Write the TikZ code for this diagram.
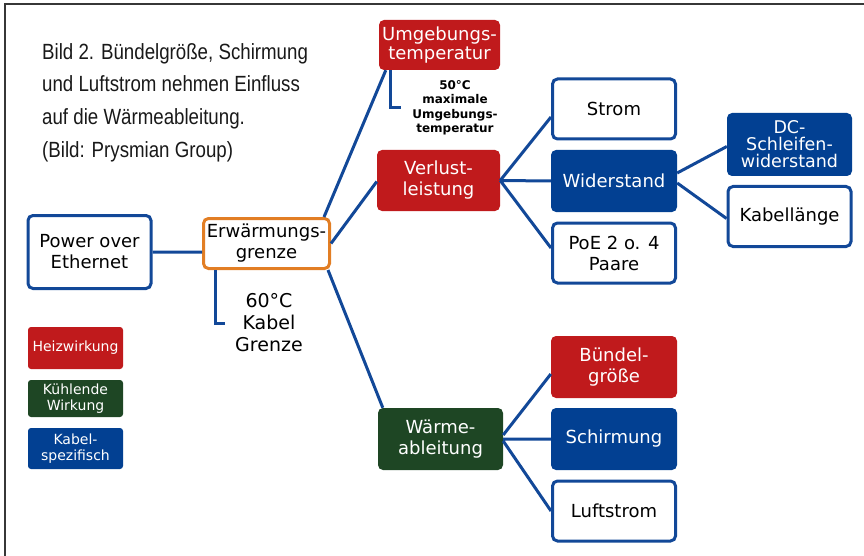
\documentclass[tikz,border=0pt]{standalone}
\usepackage{fontspec}
\setmainfont{DejaVu Sans}
\newfontfamily\captionfont[FakeStretch=0.85]{Liberation Sans}
\usetikzlibrary{positioning}
\definecolor{heat}{RGB}{192,26,28}
\definecolor{cool}{RGB}{30,70,36}
\definecolor{cable}{RGB}{2,64,146}
\definecolor{wire}{RGB}{18,72,152}
\definecolor{limit}{RGB}{226,126,36}
\definecolor{frame}{RGB}{55,55,55}

\begin{document}
\begin{tikzpicture}[
            x=1pt,y=-1pt,node distance=72pt,
            every node/.style={align=center,font=\fontsize{18}{21}\selectfont},
            box/.style={minimum width=126pt,minimum height=62pt,rounded corners=5pt,inner sep=2pt},
            heat box/.style={box,fill=heat,text=white},
            cool box/.style={box,fill=cool,text=white},
            cable box/.style={box,fill=cable,text=white},
            plain box/.style={box,draw=wire,line width=3pt,fill=white,minimum width=123pt,minimum height=60pt},
            legend/.style={minimum width=95pt,rounded corners=3pt,inner sep=1pt,text=white,font=\fontsize{14}{16.5}\selectfont},
            note/.style={inner sep=0pt},
            link/.style={draw=wire,line width=3pt}]
        \useasboundingbox (0,0) rectangle (864,556);
        \draw[frame,line width=2pt] (5,556) -- (5,4.5) -- (864,4.5);

        % Caption
        \node[anchor=north west,inner sep=0pt,align=left,text=black!90,
            font=\captionfont\fontsize{22}{32.7}\selectfont] (caption) at (42,43)
            {Bild 2. Bündelgröße, Schirmung\\und Luftstrom nehmen Einfluss\\auf die Wärmeableitung.\\(Bild: Prysmian Group)};

        % Define vertices
        \node[plain box,minimum height=73pt] (poe) at (89.5,252) {Power over\\Ethernet};
        \node[box,draw=limit,line width=3pt,fill=white,minimum height=50pt] (erw) at (266.5,243.5) {Erwärmungs-\\grenze};
        \node[note,font=\fontsize{19}{22}\selectfont] (kabel) at (269,323) {60°C\\Kabel\\Grenze};
        \node[heat box,minimum width=121pt,minimum height=50pt,inner sep=0pt,font=\fontsize{18}{19}\selectfont] (umg) at (439.5,45) {Umgebungs-\\temperatur};
        \node[note,font=\bfseries\fontsize{12}{14.5}\selectfont] (umginfo) at (455,108) {50°C\\maximale\\Umgebungs-\\temperatur};
        \node[heat box,minimum width=123pt,minimum height=61pt] (verl) at (438.5,180.5) {Verlust-\\leistung};
        \node[cool box,minimum width=125pt] (waerme) at (440.5,439) {Wärme-\\ableitung};

        \node[cable box] (wid) at (614,181) {Widerstand};
        \node[plain box] (strom) [above of=wid] {Strom};
        \node[plain box] (paare) [below of=wid] {PoE 2 o. 4\\Paare};
        \node[cable box,minimum width=125pt,minimum height=63pt,font=\fontsize{17.5}{17}\selectfont] (dc) at (789.5,144.5) {DC-\\Schleifen-\\widerstand};
        \node[plain box] (laenge) [below of=dc] {Kabellänge};
        \node[cable box] (schirm) at (614,439) {Schirmung};
        \node[heat box] (buendel) [above of=schirm] {Bündel-\\größe};
        \node[plain box] (luft) [below of=schirm] {Luftstrom};

        % Legend
        \node[legend,fill=heat,minimum height=42pt] (lheat) at (75.5,348) {Heizwirkung};
        \node[legend,fill=cool,minimum height=37pt] (lcool) at (75.5,398.5) {Kühlende\\Wirkung};
        \node[legend,fill=cable,minimum height=41pt] (lcable) at (75.5,448.5) {Kabel-\\spezifisch};

        % Draw edges
        \path[link]
            (poe.east) -- (poe.east -| erw.west)
            ([xshift=-7pt]erw.north east) -- ([xshift=7pt]umg.south west)
            (erw.east) -- ([yshift=-1pt]verl.west)
            ([xshift=-3pt]erw.south east) -- ([xshift=5pt]waerme.north west)
            (verl.east) -- ([yshift=-8pt]strom.west)
            (verl.east) -- (wid.west)
            (verl.east) -- ([yshift=5pt]paare.west)
            ([yshift=8pt]wid.east) -- ([yshift=-2pt]dc.west)
            ([yshift=-2pt]wid.east) -- ([yshift=-2pt]laenge.west)
            ([yshift=4pt]waerme.east) -- ([yshift=-7pt]buendel.west)
            (waerme.east) -- (schirm.west)
            ([yshift=-2pt]waerme.east) -- (luft.west);
        \draw[link] ([xshift=13pt]erw.south west) |- ([xshift=-10pt]kabel.west);
        \draw[link] ([xshift=12pt]umg.south west) |- ([xshift=-11pt]umginfo.west);
        \end{tikzpicture}
\end{document}
